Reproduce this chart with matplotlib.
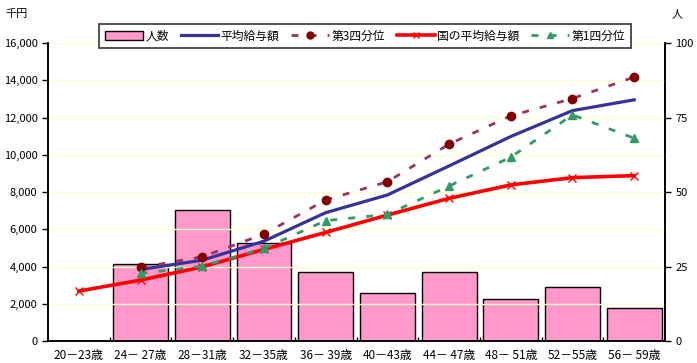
import numpy as np
import matplotlib
matplotlib.use("Agg")
import matplotlib.pyplot as plt
from matplotlib.patches import Patch
from matplotlib.lines import Line2D

plt.rcParams['font.family'] = ['Noto Sans CJK JP', 'DejaVu Sans']

ages = ['20－23歳', '24－ 27歳', '28－31歳', '32－35歳', '36－ 39歳',
        '40－43歳', '44－ 47歳', '48－ 51歳', '52－55歳', '56－ 59歳']
ninzu = [0, 26, 44, 33, 23, 16, 23, 14, 18, 11]
heikin = [np.nan, 3840, 4340, 5360, 6890, 7840, 9400, 10980, 12370, 12950]
q3 = [np.nan, 3950, 4520, 5740, 7570, 8550, 10570, 12090, 13020, 14170]
kuni = [2680, 3270, 3980, 4920, 5830, 6760, 7660, 8380, 8770, 8880]
q1 = [np.nan, 3630, 4020, 4970, 6460, 6800, 8320, 9870, 12140, 10890]

x = np.arange(len(ages))
fs = 8

fig = plt.figure(figsize=(6.97, 3.63), dpi=100)
ax = fig.add_axes([0.0689, 0.0606, 0.8852, 0.8209])
ax2 = ax.twinx()

# 人数 (right axis)
ax2.bar(x, ninzu, width=0.89, color='#FF99CC', edgecolor='black', linewidth=1.0, zorder=1)
ax2.set_ylim(0, 100)
ax2.set_yticks([0, 25, 50, 75, 100])
ax2.tick_params(axis='y', labelsize=fs, direction='out', length=4, width=1)

ax.set_zorder(ax2.get_zorder() + 1)
ax.patch.set_visible(False)

dash = (0, (2.5, 4))
ax.plot(x, heikin, color='#333399', lw=2.3, zorder=3)
ax.plot(x, q3, color='#993366', lw=2, ls=dash, marker='o', ms=6,
        markerfacecolor='#800000', markeredgecolor='#800000', zorder=4)
ax.plot(x, kuni, color='#FF0000', lw=2.6, marker='x', ms=6, mew=1,
        markeredgecolor='#FF0000', zorder=3)
ax.plot(x, q1, color='#339966', lw=2, ls=dash, marker='^', ms=6,
        markerfacecolor='#339966', markeredgecolor='#339966', zorder=4)

ax.set_xlim(-0.5, len(ages) - 0.5)
ax2.set_xlim(-0.5, len(ages) - 0.5)
ax.set_ylim(0, 16000)
ax.set_yticks(range(0, 16001, 2000))
ax.set_yticklabels([f'{v:,}' for v in range(0, 16001, 2000)])
ax.grid(axis='y', color='#FFFFCC', lw=1, zorder=0)
ax.set_axisbelow(True)
ax.tick_params(axis='y', labelsize=fs, direction='out', length=4, width=1)

ax.set_xticks(x)
ax.set_xticklabels(ages, fontsize=8.5)
ax.tick_params(axis='x', length=0, pad=6)
ax.set_xticks(np.arange(0.5, len(ages) - 0.5, 1), minor=True)
ax.tick_params(axis='x', which='minor', direction='in', length=3, width=1)

for a in (ax, ax2):
    a.spines['top'].set_visible(False)
    for s in ('left', 'right', 'bottom'):
        a.spines[s].set_linewidth(1.2)

fig.text(0.008, 0.975, '千円', fontsize=fs, va='top')
fig.text(0.963, 0.975, '人', fontsize=fs, va='top')

handles = [
    Patch(facecolor='#FF99CC', edgecolor='black'),
    Line2D([], [], color='#333399', lw=2.3),
    Line2D([], [], color='#993366', lw=2, ls=dash, marker='o', ms=5,
           markerfacecolor='#800000', markeredgecolor='#800000'),
    Line2D([], [], color='#FF0000', lw=2.6, marker='x', ms=5, markeredgecolor='#FF0000'),
    Line2D([], [], color='#339966', lw=2, ls=dash, marker='^', ms=5,
           markerfacecolor='#339966', markeredgecolor='#339966'),
]
labels = ['人数', '平均給与額', '第3四分位', '国の平均給与額', '第1四分位']
leg = fig.legend(handles, labels, ncol=5, loc='center', bbox_to_anchor=(0.5237, 0.9008),
                 fontsize=8.5, frameon=True, fancybox=False, edgecolor='black',
                 handlelength=3.2, columnspacing=1.0, handletextpad=0.2, borderpad=0.5)
leg.get_frame().set_linewidth(1.2)

fig.savefig('out.png', dpi=100)
